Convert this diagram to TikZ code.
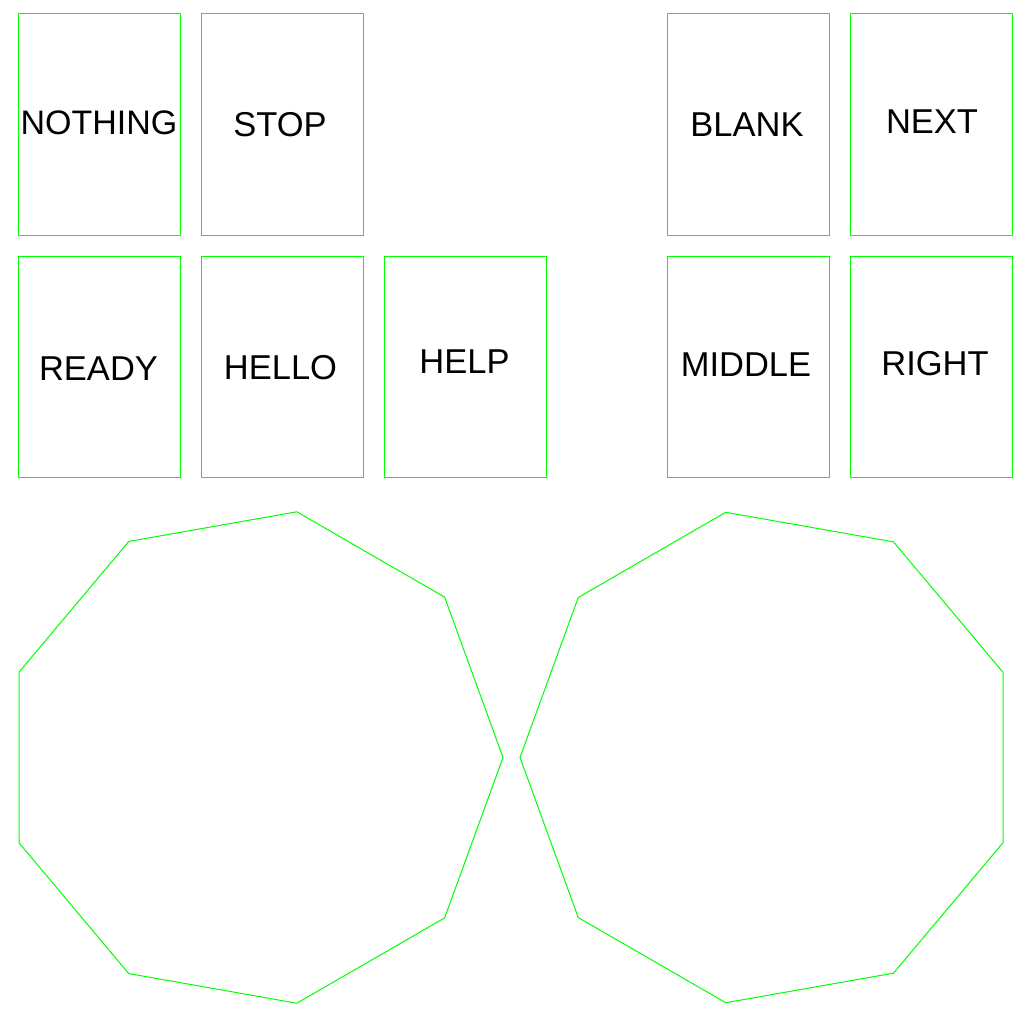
\documentclass[tikz,border=0pt]{standalone}
\usepackage{fontspec}
\setmainfont{Liberation Sans}
\usetikzlibrary{calc}
\definecolor{lgreen}{RGB}{0,255,0}
\begin{document}
\begin{tikzpicture}[x=1pt,y=-1pt,
  card/.style={draw=lgreen,line width=1pt,rectangle,minimum width=162pt,minimum height=221pt,inner sep=0pt},
  lbl/.style={anchor=base,inner sep=0pt,font=\fontsize{34.5}{40}\selectfont},
  poly/.style={draw=lgreen,line width=1pt}]
\useasboundingbox (0,0) rectangle (1024,1024);
% cards
\node[card] (c1) at (99,124.5) {};
\node[card] (c2) at (282,124.5) {};
\node[card] (c3) at (748,124.5) {};
\node[card] (c4) at (931,124.5) {};
\node[card] (c5) at (99,367) {};
\node[card] (c6) at (282,367) {};
\node[card] (c7) at (465,367) {};
\node[card] (c8) at (748,367) {};
\node[card] (c9) at (931,367) {};
% labels
\node[lbl,font=\fontsize{34}{40}\selectfont] (t1) at (99,134.5) {NOTHING};
\node[lbl] (t2) at (280,136.5) {STOP};
\node[lbl] (t3) at (747,136.5) {BLANK};
\node[lbl] (t4) at (932,133.5) {NEXT};
\node[lbl] (t5) at (98.5,380.5) {READY};
\node[lbl] (t6) at (280.5,379.5) {HELLO};
\node[lbl] (t7) at (464.5,373.5) {HELP};
\node[lbl] (t8) at (746,376.5) {MIDDLE};
\node[lbl] (t9) at (935,375.5) {RIGHT};
% nonagons
\coordinate (p1) at (253.5,757.5);
\coordinate (p2) at (769,757.5);
\draw[poly] ($(p1)+(0:249.5)$) \foreach \a in {40,80,...,320} { -- ($(p1)+(\a:249.5)$)} -- cycle;
\draw[poly] ($(p2)+(180:249)$) \foreach \a in {220,260,...,500} { -- ($(p2)+(\a:249)$)} -- cycle;
\end{tikzpicture}
\end{document}
